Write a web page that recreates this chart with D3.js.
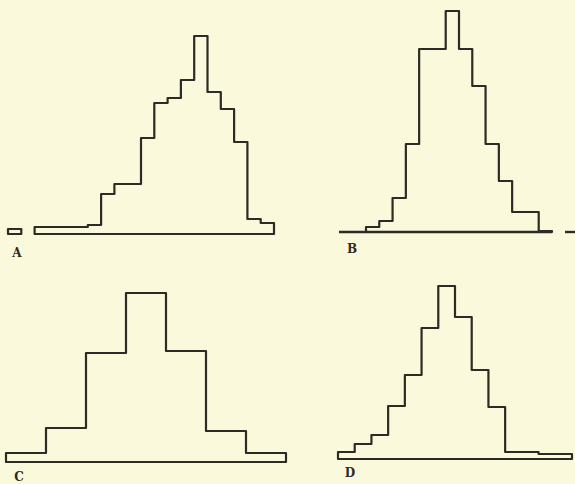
<!DOCTYPE html>
<html>
<head>
<meta charset="utf-8">
<script src="https://cdn.jsdelivr.net/npm/d3@7"></script>
<style>
  body { margin: 0; background: #fbf9dc; }
  svg { display: block; }
  .label { font-family: "DejaVu Serif", "Liberation Serif", serif; font-weight: bold; fill: #2e2a26; }
</style>
</head>
<body>
<svg id="chart" width="575" height="484"></svg>
<script>
// frequencies per class interval
var valuesA = [5, 0, 7, 7, 7, 7, 9, 40, 50, 50, 96, 131, 136, 154, 198, 142, 125, 92, 15, 11];
var valuesB = [5, 11, 34, 88, 183, 183, 221, 183, 146, 88, 51, 20, 20, 1];
var valuesC = [9, 34, 109, 169, 111, 31, 9];
var valuesD = [7, 15, 24, 53, 84, 131, 173, 142, 89, 52, 7, 7, 5, 5];
var panelLabels = ["A", "B", "C", "D"];

var ink = "#2e2a26";

// layout of each small histogram on the page
var panels = [
    { values: valuesA, x0: 8,   x1: 274, base: 234, label: [17, 257], axis: [] },
    { values: valuesB, x0: 366, x1: 552, base: 232, label: [352, 253], axis: [[339, 552], [565, 575]] },
    { values: valuesC, x0: 6,   x1: 286, base: 462, label: [19, 481], axis: [] },
    { values: valuesD, x0: 338, x1: 572, base: 459, label: [350, 477], axis: [] }
];

var svg = d3.select("#chart");
svg.append("rect").attr("width", 575).attr("height", 484).attr("fill", "#fbf9dc");

var line = d3.line();

panels.forEach(function(p, k) {
    var n = p.values.length;
    var x = d3.scaleLinear().domain([0, n]).range([p.x0, p.x1]);
    var y = d3.scaleLinear().domain([0, 100]).range([p.base, p.base - 100]);

    var g = svg.append("g");

    // baseline extensions (axis)
    p.axis.forEach(function(a) {
        g.append("line")
            .attr("x1", a[0]).attr("x2", a[1])
            .attr("y1", y(0)).attr("y2", y(0))
            .attr("stroke", ink).attr("stroke-width", 2.4);
    });

    // split into runs of non-empty classes, each drawn as a closed step outline
    var runs = [], cur = null;
    p.values.forEach(function(v, i) {
        if (v > 0) {
            if (!cur) { cur = { start: i, vals: [] }; runs.push(cur); }
            cur.vals.push(v);
        } else {
            cur = null;
        }
    });

    runs.forEach(function(r) {
        var pts = [[x(r.start), y(0)]];
        r.vals.forEach(function(v, j) {
            pts.push([x(r.start + j), y(v)]);
            pts.push([x(r.start + j + 1), y(v)]);
        });
        pts.push([x(r.start + r.vals.length), y(0)]);
        g.append("path")
            .attr("d", line(pts) + "Z")
            .attr("fill", "none")
            .attr("stroke", ink)
            .attr("stroke-width", 2.2)
            .attr("stroke-linejoin", "round");
    });

    g.append("text")
        .attr("class", "label")
        .attr("x", p.label[0]).attr("y", p.label[1])
        .attr("text-anchor", "middle")
        .attr("font-size", 12)
        .text(panelLabels[k]);
});
</script>
</body>
</html>
